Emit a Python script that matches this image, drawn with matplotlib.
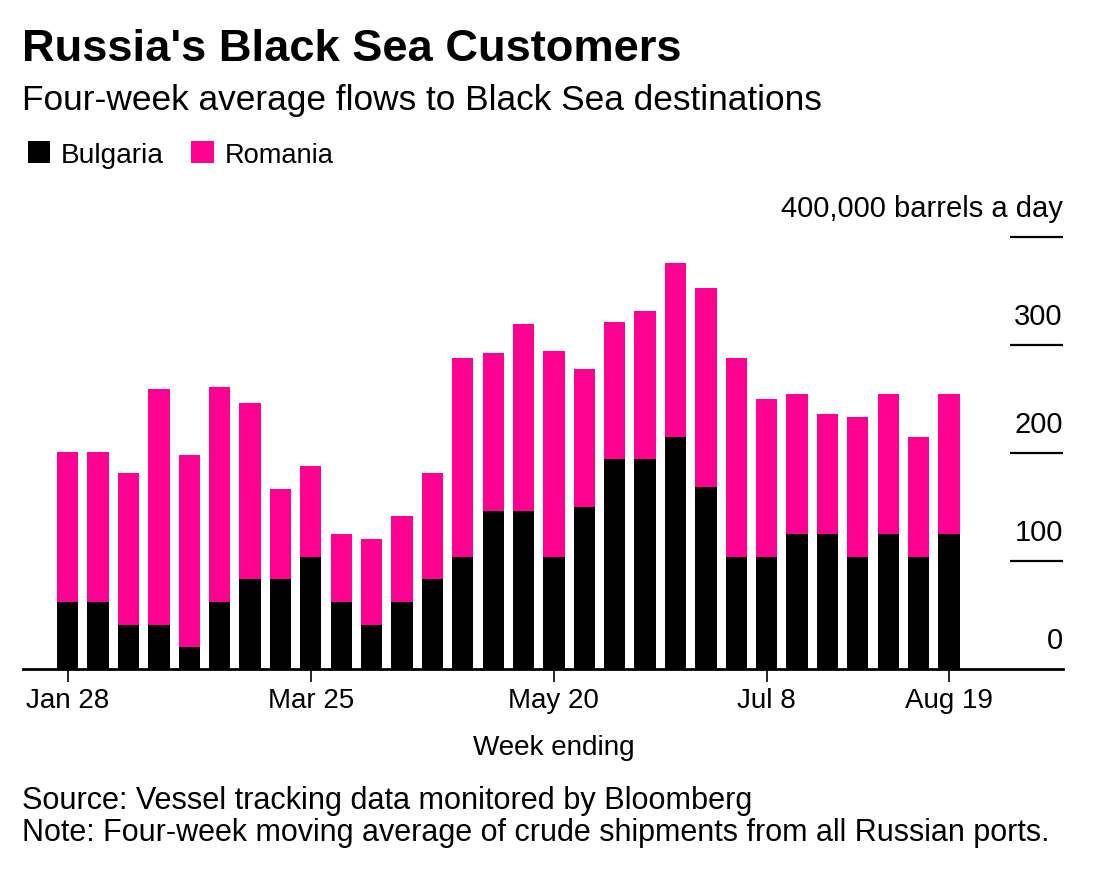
import matplotlib
matplotlib.use("Agg")
import matplotlib.pyplot as plt
from matplotlib.patches import Rectangle
from matplotlib.transforms import offset_copy, blended_transform_factory
import numpy as np

# ---------------- data ----------------
weeks = ["Jan 28", "Feb 4", "Feb 11", "Feb 18", "Feb 25", "Mar 4", "Mar 11", "Mar 18",
         "Mar 25", "Apr 1", "Apr 8", "Apr 15", "Apr 22", "Apr 29", "May 6", "May 13",
         "May 20", "May 27", "Jun 3", "Jun 10", "Jun 17", "Jun 24", "Jul 1", "Jul 8",
         "Jul 15", "Jul 22", "Jul 29", "Aug 5", "Aug 12", "Aug 19"]
bulgaria = [62, 62, 41, 41, 20, 62, 83, 83, 104, 62, 41, 62, 83, 104, 146, 146,
            104, 150, 194, 194, 215, 168, 104, 104, 125, 125, 104, 125, 104, 125]
romania = [138.5, 138.5, 140, 218, 178, 199, 163, 84, 83.5, 63, 79.5, 79.5, 98, 184,
           146, 173.5, 190, 127.5, 127.5, 137.5, 160.5, 184.5, 184, 146, 129.5, 110.5,
           129.5, 129.5, 111, 129.5]
x_tick_labels = ["Jan 28", "Mar 25", "May 20", "Jul 8", "Aug 19"]
y_ticks = [0, 100, 200, 300, 400]
y_tick_labels = ["0", "100", "200", "300", "400,000 barrels a day"]

title = "Russia's Black Sea Customers"
subtitle = "Four-week average flows to Black Sea destinations"
series_names = ["Bulgaria", "Romania"]
xlabel = "Week ending"
source = "Source: Vessel tracking data monitored by Bloomberg"
note = "Note: Four-week moving average of crude shipments from all Russian ports."

# ---------------- style ----------------
PINK = "#ff0190"
BLACK = "#000000"
FONT = "Liberation Sans"
plt.rcParams["font.family"] = [FONT, "DejaVu Sans"]

W, H = 1107, 877
fig = plt.figure(figsize=(W / 100, H / 100), dpi=100)
renderer = fig.canvas.get_renderer()


def fit(t, target, lo=None, hi=None):
    """scale a text's font size so its rendered width matches target pixels"""
    for _ in range(3):
        w = t.get_window_extent(renderer).width
        t.set_fontsize(t.get_fontsize() * target / w)
    fs_ = t.get_fontsize()
    if lo is not None:
        fs_ = max(lo, fs_)
    if hi is not None:
        fs_ = min(hi, fs_)
    t.set_fontsize(fs_)
    return fs_


# axes placement in pixels
ax_left, ax_right = 22.7, 1062.7
ax_bottom, ax_top = 669.0, 236.7   # y=0 and y=400
ax = fig.add_axes([ax_left / W, 1 - ax_bottom / H,
                   (ax_right - ax_left) / W, (ax_bottom - ax_top) / H])

x = np.arange(len(weeks))
bw = 0.70
ax.bar(x, bulgaria, width=bw, color=BLACK, linewidth=0, zorder=2)
ax.bar(x, romania, bottom=bulgaria, width=bw, color=PINK, linewidth=0, zorder=2)

step = (949.0 - 67.7) / 29
ax.set_xlim(-(67.7 - ax_left) / step, (ax_right - 67.7) / step)
ax.set_ylim(0, 400)

for s in ["top", "right", "left"]:
    ax.spines[s].set_visible(False)
ax.spines["bottom"].set_linewidth(2.0)
ax.spines["bottom"].set_color(BLACK)
ax.spines["bottom"].set_zorder(3)
ax.set_yticks([])

# overlay for pixel-placed texts
ov = fig.add_axes([0, 0, 1, 1], zorder=10)
ov.set_xlim(0, W)
ov.set_ylim(H, 0)
ov.axis("off")
ov.patch.set_alpha(0)

BASE = 19.5
# x ticks
ax.set_xticks([weeks.index(l) for l in x_tick_labels])
ax.set_xticklabels(x_tick_labels, fontsize=20.0)
ax.tick_params(axis="x", length=9.5, width=1.2, color=BLACK, pad=4)

# y-axis: short lines on the right with labels above
trans = blended_transform_factory(ax.transAxes, ax.transData)
tick_start = (1010 - ax_left) / (ax_right - ax_left)
ylab_texts = []
for v, lab in zip(y_ticks, y_tick_labels):
    if v != 0:
        ax.plot([tick_start, 1.0], [v, v], transform=trans, color=BLACK,
                lw=1.6, solid_capstyle="butt", clip_on=False, zorder=3)
    t = offset_copy(trans, fig=fig, x=0, y=20, units="dots")
    ylab_texts.append(ax.text(1.0, v, lab, transform=t, ha="right", va="baseline",
                              fontsize=BASE, color=BLACK))
fy = fit(ylab_texts[-1], 281)
for t in ylab_texts:
    t.set_fontsize(fy)

t_title = ov.text(22, 60.7, title, fontsize=31.5, fontweight="bold",
                  ha="left", va="baseline")
fit(t_title, 661)
t_sub = ov.text(22, 110, subtitle, fontsize=24, ha="left", va="baseline")
fit(t_sub, 801)

ov.add_patch(Rectangle((27.7, 141), 22.6, 22.3, color=BLACK, lw=0))
t1 = ov.text(61, 162.7, series_names[0], fontsize=BASE, ha="left", va="baseline")
fit(t1, 103)
ov.add_patch(Rectangle((191.3, 141), 22.4, 22.3, color=PINK, lw=0))
t2 = ov.text(225, 162.7, series_names[1], fontsize=BASE, ha="left", va="baseline")
fit(t2, 109)

t_xl = ov.text(553.8, 755, xlabel, fontsize=BASE, ha="center", va="baseline")
fit(t_xl, 162)
t_src = ov.text(22, 809.3, source, fontsize=BASE, ha="left", va="baseline")
fit(t_src, 731)
t_note = ov.text(22, 841, note, fontsize=BASE, ha="left", va="baseline")
fit(t_note, 1027)

fig.savefig("out.png", dpi=100, facecolor="white")
